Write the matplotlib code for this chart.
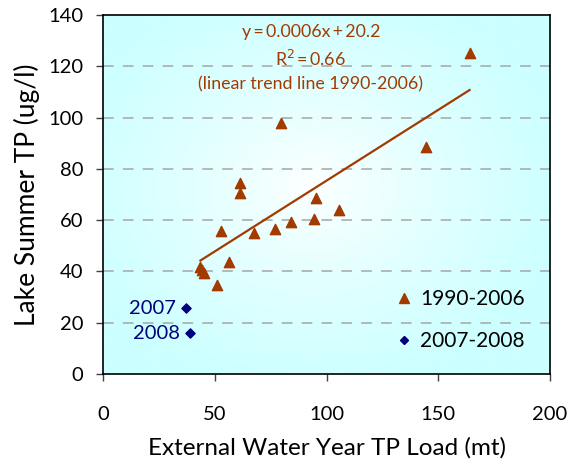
import numpy as np
import matplotlib.pyplot as plt
from matplotlib.lines import Line2D

plt.rcParams['font.family'] = ['Lato', 'DejaVu Sans']

# 1990-2006 water years: external TP load (mt) vs lake summer TP (ug/l)
load_early = [164.0, 79.5, 144.5, 61.2, 61.2, 95.4, 105.4, 94.4, 84.3,
              76.8, 67.6, 52.8, 56.5, 43.6, 44.4, 45.0, 50.9]
tp_early = [125.0, 98.0, 88.4, 74.6, 70.4, 68.7, 63.9, 60.6, 59.1,
            56.7, 55.1, 55.9, 43.5, 41.8, 40.5, 39.3, 34.7]

# 2007-2008 water years
years_late = ['2007', '2008']
load_late = [37.1, 38.9]
tp_late = [25.6, 15.9]

eq_text = ('y\u2009=\u20090.0006x\u2009+\u200920.2\nR$^2$\u2009=\u20090.66\n'
           '(linear trend line 1990-2006)')

brown = '#a33a00'
navy = '#00007f'

fig = plt.figure(figsize=(5.7, 4.67), dpi=100)
ax = fig.add_axes([0.1807, 0.199, 0.7843, 0.769])

# radial white-to-cyan background fill
gx, gy = np.meshgrid(np.linspace(0, 1, 300), np.linspace(0, 1, 300))
r = np.sqrt(((gx - 0.47) / 0.75) ** 2 + ((gy - 0.52) / 0.75) ** 2)
r = np.clip(r / 0.75, 0, 1)
c0 = np.array([1.0, 1.0, 1.0])
c1 = np.array([204, 255, 255]) / 255
img = c0 + (c1 - c0) * r[..., None] ** 0.8
ax.imshow(img, extent=[0, 1, 0, 1], transform=ax.transAxes,
          aspect='auto', zorder=0, origin='lower')

for yv in range(20, 140, 20):
    ax.axhline(yv, color='#a6a6a6', lw=1.1, ls=(0, (7, 6)), zorder=1)

# linear trend through the 1990-2006 points
coef = np.polyfit(load_early, tp_early, 1)
xs = np.array([min(load_early), max(load_early)])
ax.plot(xs, np.polyval(coef, xs), color=brown, lw=1.6, zorder=2)

ax.scatter(load_early, tp_early, marker='^', s=55, color=brown, zorder=3)
ax.scatter(load_late, tp_late, marker='D', s=22, color=navy, zorder=3)

for yr, xv, yv in zip(years_late, load_late, tp_late):
    ax.annotate(yr, (xv, yv), xytext=(-7, 0), textcoords='offset points',
                ha='right', va='center', color=navy, fontsize=14.5)

ax.text(0.465, 0.975, eq_text, transform=ax.transAxes, ha='center', va='top',
        color=brown, fontsize=12.8, linespacing=1.55)

handles = [Line2D([], [], ls='', marker='^', ms=7, color=brown),
           Line2D([], [], ls='', marker='D', ms=4.5, color=navy)]
ax.legend(handles, ['1990-2006', '2007-2008'], loc='lower right',
          bbox_to_anchor=(0.985, 0.012), frameon=False, fontsize=15,
          handletextpad=0.2, labelspacing=1.05, handlelength=1.1)

ax.set_xlim(0, 200)
ax.set_ylim(0, 140)
ax.set_xticks(range(0, 201, 50))
ax.set_yticks(range(0, 141, 20))
ax.tick_params(labelsize=14.5, length=5, width=1, color='#404040', pad=18)
ax.tick_params(axis='y', pad=9)
for s in ax.spines.values():
    s.set_linewidth(1.2)

ax.set_xlabel('External Water Year TP Load (mt)', fontsize=17.5, labelpad=10)
ax.set_ylabel('Lake Summer TP (ug/l)', fontsize=19, labelpad=6)

fig.savefig('out.png', dpi=100)
